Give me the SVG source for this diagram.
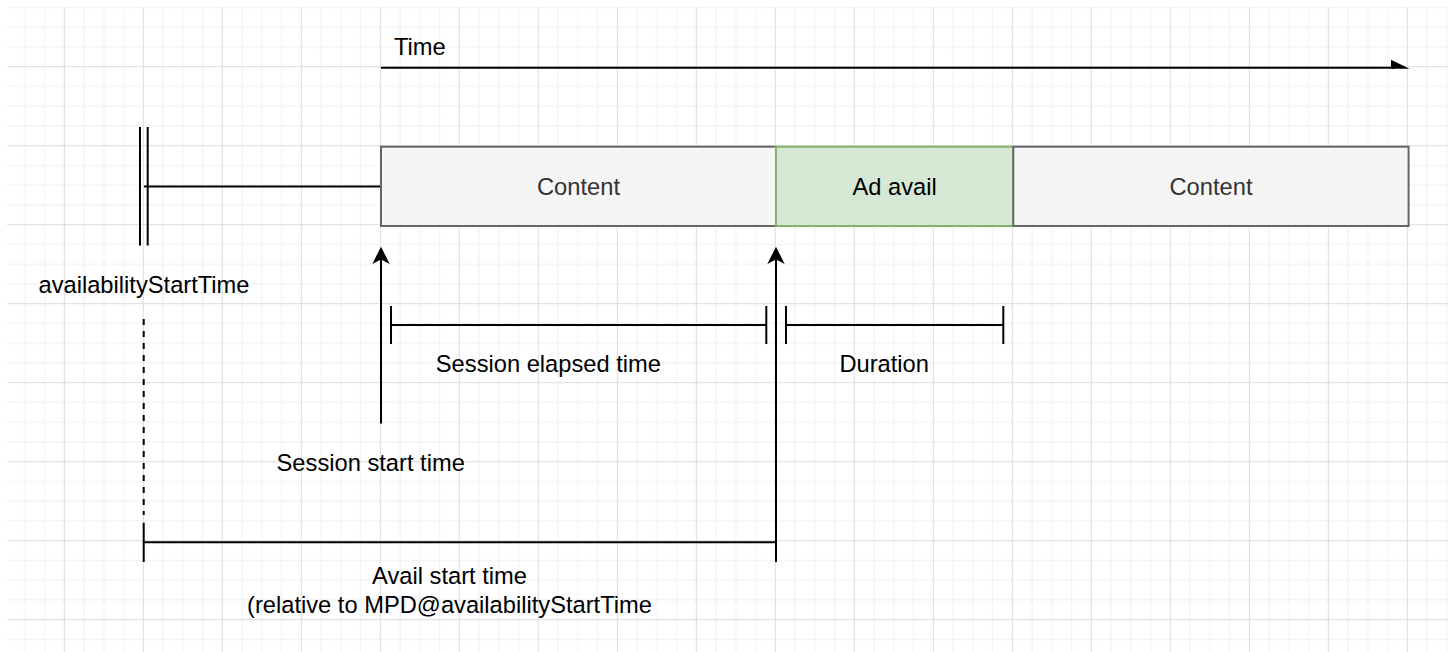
<svg xmlns="http://www.w3.org/2000/svg" width="1448" height="652" viewBox="0 0 1448 652">
<style>
text{font-family:"Liberation Sans",Arial,sans-serif;font-size:23.7px;fill:#000}
.ln{stroke:#000;stroke-width:2;fill:none}
.dash{stroke:#000;stroke-width:2;fill:none;stroke-dasharray:6 6}
.box{fill:#f5f5f5;stroke:#666666;stroke-width:2}
.green{fill:#d5e8d4;stroke:#82b366;stroke-width:2}
.head{fill:#000;stroke:none}
.mid{text-anchor:middle}
.grey{fill:#333333}
</style>
<defs>
<pattern id="grid" patternUnits="userSpaceOnUse" x="63.8" y="66.2" width="79" height="79">
<rect x="19.75" y="0" width="1" height="79" fill="#efefef"/>
<rect x="39.5" y="0" width="1" height="79" fill="#efefef"/>
<rect x="59.25" y="0" width="1" height="79" fill="#efefef"/>
<rect x="0" y="19.75" width="79" height="1" fill="#efefef"/>
<rect x="0" y="39.5" width="79" height="1" fill="#efefef"/>
<rect x="0" y="59.25" width="79" height="1" fill="#efefef"/>
<rect x="0" y="0" width="1" height="79" fill="#dcdcdc"/>
<rect x="0" y="0" width="79" height="1" fill="#dcdcdc"/>
</pattern>
</defs>
<rect width="1448" height="652" fill="#ffffff"/>
<rect x="7" y="7" width="1441" height="645" fill="url(#grid)"/>

<g id="connectors">
<!-- time axis -->
<line class="ln" x1="381" y1="67.8" x2="1395" y2="67.8"/>
<polygon class="head" points="1391,59.8 1409.5,68.8 1391,68.8"/>
<!-- availabilityStartTime marker -->
<line class="ln" x1="140" y1="127" x2="140" y2="245.5"/>
<line class="ln" x1="147.7" y1="127" x2="147.7" y2="245.5"/>
<line class="ln" x1="144" y1="186.5" x2="381" y2="186.5"/>
<!-- session start arrow -->
<line class="ln" x1="381" y1="423.5" x2="381" y2="258"/>
<path class="head" d="M381,246.7 L389.7,264 L381,259.5 L372.3,264 Z"/>
<!-- avail start arrow -->
<line class="ln" x1="776" y1="562" x2="776" y2="258"/>
<path class="head" d="M776,246.7 L784.7,264 L776,259.5 L767.3,264 Z"/>
<!-- session elapsed time bar -->
<line class="ln" x1="391" y1="325" x2="766.3" y2="325"/>
<line class="ln" x1="391" y1="306" x2="391" y2="344"/>
<line class="ln" x1="766.3" y1="306" x2="766.3" y2="344"/>
<!-- duration bar -->
<line class="ln" x1="786" y1="325" x2="1003.3" y2="325"/>
<line class="ln" x1="786" y1="306" x2="786" y2="344"/>
<line class="ln" x1="1003.3" y1="306" x2="1003.3" y2="344"/>
<!-- dashed line -->
<line class="dash" x1="143.7" y1="319" x2="143.7" y2="515"/>
<!-- avail start time bar -->
<line class="ln" x1="143.7" y1="542.3" x2="776" y2="542.3"/>
<line class="ln" x1="143.7" y1="522.7" x2="143.7" y2="562"/>
</g>

<g id="content1">
<rect class="box" x="381" y="146.7" width="395" height="79.3"/>
<text class="mid grey" x="578.5" y="194.8">Content</text>
</g>
<g id="adavail">
<rect class="green" x="776" y="146.7" width="237.3" height="79.3"/>
<text class="mid" x="894.6" y="194.8">Ad avail</text>
</g>
<g id="content2">
<rect class="box" x="1013.3" y="146.7" width="395.3" height="79.3"/>
<text class="mid grey" x="1211" y="194.8">Content</text>
</g>

<g id="label-time"><text x="394" y="55">Time</text></g>
<g id="label-ast"><text class="mid" x="144" y="293.3">availabilityStartTime</text></g>
<g id="label-elapsed"><text class="mid" x="548.4" y="372">Session elapsed time</text></g>
<g id="label-duration"><text class="mid" x="884.2" y="372.3">Duration</text></g>
<g id="label-sst"><text class="mid" x="370.7" y="471">Session start time</text></g>
<g id="label-avail">
<text class="mid" x="449.5" y="584.3">Avail start time</text>
<text class="mid" x="449.5" y="613.3">(relative to MPD@availabilityStartTime</text>
</g>
</svg>
